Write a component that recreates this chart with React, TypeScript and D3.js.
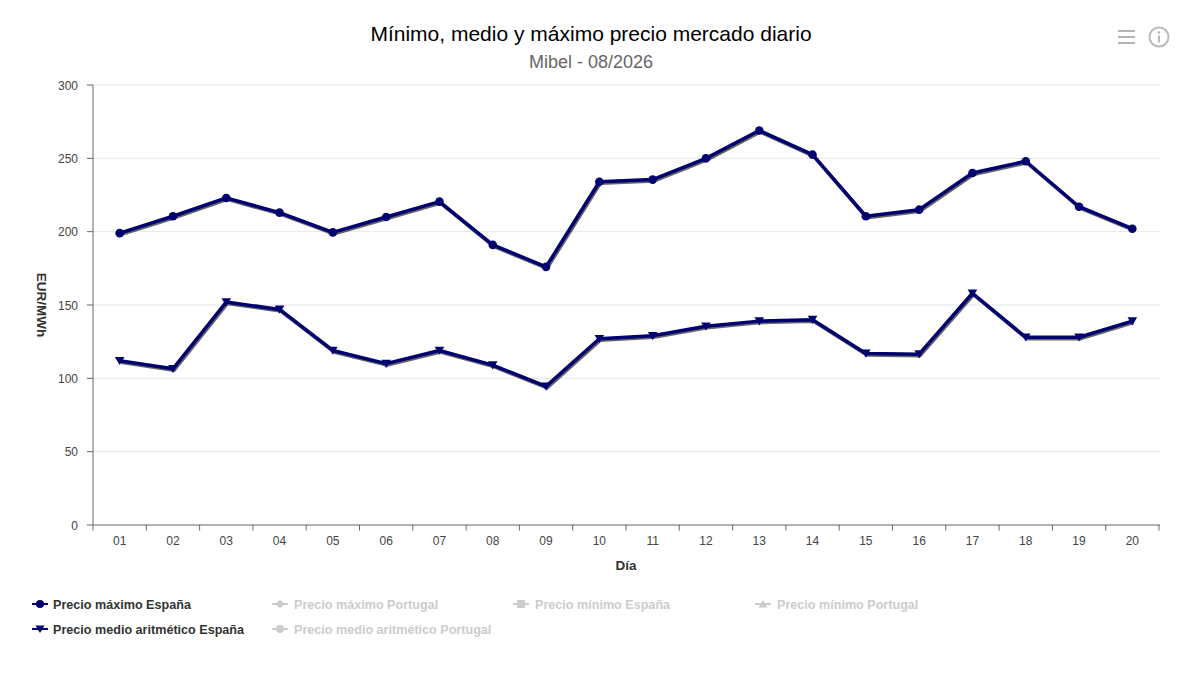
import React from "react";
import * as d3 from "d3";

const days = ["01","02","03","04","05","06","07","08","09","10","11","12","13","14","15","16","17","18","19","20"];
const maxSpain = [199,210.5,223,213,199.5,210,220.5,191,176,234,235.5,250,269,252.5,210.5,215,240,248,217,202];
const meanSpain = [112,106.5,152,147,119,110,119,109,94.5,127,129,135.5,139,140,117,116.5,158,128,128,139];
const yTicks = [0,50,100,150,200,250,300];
const legendRow1 = ["Precio máximo España","Precio máximo Portugal","Precio mínimo España","Precio mínimo Portugal"];
const legendRow2 = ["Precio medio aritmético España","Precio medio aritmético Portugal"];
const legendSymbols1 = ["circle","diamond","square","triangle"];
const legendSymbols2 = ["triangleDown","circle"];
const legendActive1 = [true,false,false,false];
const legendActive2 = [true,false];
const legendX = [32,272,513,755];

const NAVY = "#000070";
const FONT = "'Liberation Sans', Arial, Helvetica, sans-serif";
const L = 93, R = 1160, T = 85, B = 525;

const Marker = ({ kind, x, y, color, r = 4 }: { kind: string; x: number; y: number; color: string; r?: number }) => {
  if (kind === "circle") return <circle cx={x} cy={y} r={r} fill={color} />;
  if (kind === "square") return <rect x={x - r} y={y - r} width={2 * r} height={2 * r} fill={color} />;
  if (kind === "diamond") return <path d={`M${x},${y - r - 0.5}L${x + r + 0.5},${y}L${x},${y + r + 0.5}L${x - r - 0.5},${y}Z`} fill={color} />;
  if (kind === "triangle") return <path d={`M${x},${y - r}L${x + r + 0.5},${y + r - 0.5}L${x - r - 0.5},${y + r - 0.5}Z`} fill={color} />;
  return <path d={`M${x - r - 0.5},${y - r + 0.5}L${x + r + 0.5},${y - r + 0.5}L${x},${y + r}Z`} fill={color} />;
};

export default function App() {
  const x = d3.scaleBand<string>().domain(days).range([L, R - 1]);
  const y = d3.scaleLinear().domain([0, 300]).range([B, T]);
  const cx = (d: string) => (x(d) as number) + x.bandwidth() / 2;
  const line = d3.line<number>().x((_, i) => cx(days[i])).y(v => y(v));
  const series = [
    { values: maxSpain, kind: "circle" },
    { values: meanSpain, kind: "triangleDown" },
  ];
  const edges = [...days.map(d => x(d) as number), R - 1];

  const legend = (labels: string[], kinds: string[], active: boolean[], yy: number) =>
    labels.map((t, i) => {
      const c = active[i] ? NAVY : "#cccccc";
      return (
        <g key={t}>
          <line x1={legendX[i]} x2={legendX[i] + 16} y1={yy} y2={yy} stroke={c} strokeWidth={2} />
          <Marker kind={kinds[i]} x={legendX[i] + 8} y={yy} color={c} r={4} />
          <text x={legendX[i] + (i === 0 ? 21 : 22)} y={yy + 4.5} fontSize={12.6} fontWeight="bold" fill={active[i] ? "#333333" : "#cccccc"}>{t}</text>
        </g>
      );
    });

  return (
    <svg width={1200} height={676} style={{ position: "absolute", left: 0, top: 0, background: "#fff" }} fontFamily={FONT}>
      <g opacity={0.999}>
        <rect x={0} y={0} width={1200} height={676} fill="#fff" />
        <text x={591} y={41} textAnchor="middle" fontSize={21} fill="#000">Mínimo, medio y máximo precio mercado diario</text>
        <text x={591} y={68} textAnchor="middle" fontSize={18} fill="#666666">Mibel - 08/2026</text>

        <g stroke="#b3b3b3" strokeWidth={2}>
          <line x1={1118} x2={1135} y1={31} y2={31} />
          <line x1={1118} x2={1135} y1={37} y2={37} />
          <line x1={1118} x2={1135} y1={43} y2={43} />
        </g>
        <circle cx={1159} cy={37} r={9.5} fill="none" stroke="#b8b8b8" strokeWidth={2} />
        <circle cx={1159} cy={32.5} r={1.2} fill="#b0b0b0" />
        <line x1={1159} x2={1159} y1={35.5} y2={42.5} stroke="#b0b0b0" strokeWidth={1.8} />

        {yTicks.filter(t => t > 0).map(t => (
          <line key={t} x1={L} x2={R} y1={y(t)} y2={y(t)} stroke="#e6e6e6" strokeWidth={1} />
        ))}
        <line x1={L} x2={L} y1={T} y2={B} stroke="#666666" strokeWidth={1} />
        <line x1={L} x2={R} y1={B} y2={B} stroke="#666666" strokeWidth={1} />
        {yTicks.map(t => (
          <g key={t}>
            <line x1={L - 6} x2={L} y1={y(t)} y2={y(t)} stroke="#666666" strokeWidth={1} />
            <text x={78} y={y(t) + 4.5} textAnchor="end" fontSize={12} fill="#444444">{t}</text>
          </g>
        ))}
        {edges.map((e, i) => (
          <line key={i} x1={e} x2={e} y1={B} y2={B + 5.5} stroke="#666666" strokeWidth={1} />
        ))}
        {days.map(d => (
          <text key={d} x={cx(d)} y={545} textAnchor="middle" fontSize={12} fill="#444444">{d}</text>
        ))}
        <text x={626} y={570} textAnchor="middle" fontSize={13.5} fontWeight="bold" fill="#333333">Día</text>
        <text transform="translate(37,305) rotate(90)" textAnchor="middle" fontSize={13.5} fontWeight="bold" fill="#333333">EUR/MWh</text>

        {series.map((s, k) => (
          <g key={k}>
            <path d={line(s.values) ?? ""} transform="translate(1,1.5)" fill="none" stroke="#000" strokeOpacity={0.6} strokeWidth={3.5} strokeLinejoin="round" />
            <path d={line(s.values) ?? ""} fill="none" stroke={NAVY} strokeWidth={3.5} strokeLinejoin="round" />
            {s.values.map((v, i) => (
              <Marker key={i} kind={s.kind} x={cx(days[i])} y={y(v)} color={NAVY} r={4.3} />
            ))}
          </g>
        ))}

        {legend(legendRow1, legendSymbols1, legendActive1, 604)}
        {legend(legendRow2, legendSymbols2, legendActive2, 629)}
      </g>
    </svg>
  );
}
